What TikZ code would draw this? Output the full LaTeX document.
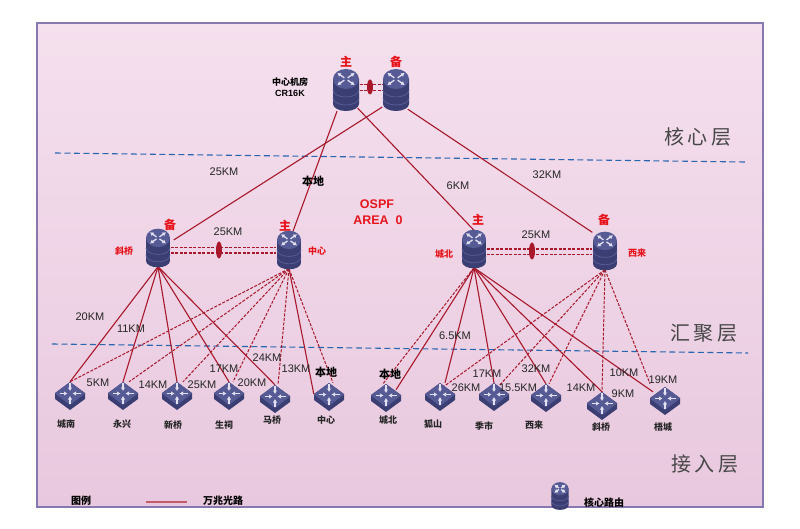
\documentclass[tikz,border=0pt]{standalone}
\usepackage{fontspec}
\setmainfont{Liberation Sans}
\newfontfamily\cjk{Noto Sans CJK SC}
\usetikzlibrary{arrows.meta,shapes.geometric}
\definecolor{linkred}{HTML}{A8182A}
\definecolor{tagred}{HTML}{E8141C}
\definecolor{layerblue}{HTML}{2A66B0}
\definecolor{rtbody}{HTML}{3A3E72}
\definecolor{rttop}{HTML}{565B96}
\definecolor{rtmark}{HTML}{E4E2F0}
\definecolor{panetop}{HTML}{F5E0EE}
\definecolor{panebot}{HTML}{E8C8DE}
\definecolor{paneline}{HTML}{8878B0}
\tikzset{
  corebox/.style={minimum width=27pt,minimum height=42pt,inner sep=0pt},
  distbox/.style={minimum width=25pt,minimum height=37pt,inner sep=0pt},
  legbox/.style={minimum width=19pt,minimum height=27pt,inner sep=0pt},
  accbox/.style={minimum width=30pt,minimum height=28pt,inner sep=0pt},
  kmlabel/.style={font=\fontsize{11}{12}\selectfont,text=black!85,inner sep=0pt},
  toplabel/.style={font=\cjk\bfseries\fontsize{9}{10}\selectfont,inner sep=0pt},
  sitelabel/.style={font=\cjk\bfseries\fontsize{9}{10}\selectfont,text=black!85,inner sep=0pt},
  redlabel/.style={font=\cjk\bfseries\fontsize{9}{10}\selectfont,text=tagred,inner sep=0pt},
  roletag/.style={font=\cjk\bfseries\fontsize{12}{12}\selectfont,text=tagred,inner sep=0pt},
  arealabel/.style={font=\bfseries\fontsize{12.5}{13}\selectfont,text=tagred,inner sep=0pt},
  layerlabel/.style={font=\cjk\fontsize{20}{20}\selectfont,text=black!72,inner sep=0pt},
  locallabel/.style={font=\cjk\bfseries\fontsize{11}{12}\selectfont,inner sep=0pt},
  fibre/.style={draw=linkred,line width=1.1pt},
  fibredash/.style={draw=linkred,line width=1pt,dash pattern=on 3pt off 1.5pt},
  bundle/.style={ellipse,fill=linkred,minimum width=6pt,minimum height=17pt,inner sep=0pt},
  layerline/.style={draw=layerblue,line width=1.1pt,dash pattern=on 6pt off 3.5pt},
  pics/corert/.style={code={
    \fill[rtbody] (-13,-11) -- (13,-11) -- (13,14) arc[start angle=0,end angle=180,x radius=13,y radius=7] -- cycle;
    \foreach \yy in {0,8}
      \draw[rttop,line width=0.8pt] (-13,\yy) arc[start angle=180,end angle=0,x radius=13,y radius=7];
    \fill[rttop] (0,-11) ellipse[x radius=13,y radius=10];
    \foreach \aa in {35,145,215,325}
      \draw[rtmark,line width=1.3pt,-{Latex[length=3.5pt,width=4.5pt]}]
        ([shift={(\aa:2)}]0,-11) -- ([shift={(\aa:10.5)}]0,-11);
  }},
  pics/accrt/.style={code={
    \fill[rtbody] (-15,-3) -- (0,-14) -- (15,-3) -- (15,3) -- (0,14) -- (-15,3) -- cycle;
    \fill[rttop] (-15,-2.5) -- (0,-14) -- (15,-2.5) -- (0,9) -- cycle;
    \foreach \aa in {0,90,180,270}
      \draw[rtmark,line width=1.3pt,-{Latex[length=3.5pt,width=4.5pt]}]
        ([shift={(\aa:10.5)}]0,-2.5) -- ([shift={(\aa:2.5)}]0,-2.5);
  }},
}
\begin{document}
\begin{tikzpicture}[x=1pt,y=-1pt]
  \useasboundingbox (0,0) rectangle (800,529);
  \shade[top color=panetop,bottom color=panebot] (37,23) rectangle (763,507);
  \draw[draw=paneline,line width=1.5pt] (37,23) rectangle (763,507);
  % layer separators
  \coordinate (sep1a) at (55,153);
  \coordinate (sep1b) at (745,162);
  \coordinate (sep2a) at (52,344);
  \coordinate (sep2b) at (748,353);
  \draw[layerline] (sep1a) -- (sep1b);
  \draw[layerline] (sep2a) -- (sep2b);
  % routers
  \draw
    (346,90) node[corebox] (zhu){}
    (396,90) node[corebox] (bei){}
    (158,248) node[distbox] (xqd){}
    (289,250) node[distbox] (zxd){}
    (474,249) node[distbox] (cbd){}
    (605,251) node[distbox] (xld){}
    (560,496) node[legbox] (legrt){};
  \draw
    (70,396) node[accbox] (chengnan){}
    (123,396) node[accbox] (yongxing){}
    (177,396) node[accbox] (xinqiao){}
    (229,396) node[accbox] (shengci){}
    (275,399) node[accbox] (maqiao){}
    (329,397) node[accbox] (zhongxin){}
    (386,398) node[accbox] (chengbei){}
    (440,397) node[accbox] (hushan){}
    (494,397) node[accbox] (jishi){}
    (546,398) node[accbox] (xilai){}
    (602,406) node[accbox] (xieqiao){}
    (665,401) node[accbox] (wucheng){};
  % double links
  \begin{scope}[every path/.style={fibredash}]
    \draw ([yshift=5pt]zhu.east) to ([yshift=5pt]bei.west);
    \draw ([yshift=-1pt]zhu.east) to ([yshift=-1pt]bei.west);
    \draw ([yshift=0pt]xqd.east) to ([yshift=2pt]zxd.west);
    \draw[line width=1.4pt] ([yshift=-5pt]xqd.east) to ([yshift=-3pt]zxd.west);
    \draw[line width=1.4pt] ([yshift=0pt]cbd.east) to ([yshift=2pt]xld.west);
    \draw[line width=0.8pt] ([yshift=-5pt]cbd.east) to ([yshift=-3pt]xld.west);
  \end{scope}
  % link bundles
  \draw
    (370,87) node[bundle,minimum height=15pt] (ring0){}
    (219,250) node[bundle] (ring1){}
    (532,251) node[bundle] (ring2){};
  % uplinks
  \begin{scope}[every path/.style={fibre}]
    \draw ([xshift=-9pt]zhu.south) to ([xshift=4pt]zxd.north);
    \draw ([xshift=-2pt,yshift=3pt]zhu.south east) to (cbd.north);
    \draw ([yshift=-17pt]bei.west) to ([xshift=3pt,yshift=8pt]xqd.east);
    \draw ([xshift=-2pt,yshift=2pt]bei.south east) to (xld.north west);
  \end{scope}
  % solid access links
  \begin{scope}[every path/.style={fibre}]
    \draw (xqd.south) to (chengnan.north);
    \draw (xqd.south) to (yongxing.north);
    \draw (xqd.south) to (xinqiao.north);
    \draw (xqd.south) to (shengci.north);
    \draw (xqd.south) to (maqiao.north);
    \draw (zxd.south) to ([yshift=3pt]zhongxin.west);
    \draw (cbd.south) to ([xshift=10pt,yshift=-6pt]chengbei.north);
    \draw (cbd.south) to ([xshift=5pt]hushan.north);
    \draw (cbd.south) to (jishi.north);
    \draw (cbd.south) to (xilai.north);
    \draw (cbd.south) to (xieqiao.north);
    \draw (cbd.south) to ([xshift=-12pt,yshift=-5pt]wucheng.north);
  \end{scope}
  % dashed access links
  \begin{scope}[every path/.style={fibredash}]
    \draw (zxd.south) to (chengnan.north);
    \draw (zxd.south) to ([xshift=6pt]yongxing.north);
    \draw (zxd.south) to ([xshift=6pt]xinqiao.north);
    \draw (zxd.south) to ([xshift=4pt]shengci.north);
    \draw (zxd.south) to ([xshift=3pt]maqiao.north);
    \draw (zxd.south) to ([xshift=4pt]zhongxin.north);
    \draw (cbd.south) to ([xshift=-3pt]chengbei.north);
    \draw (xld.south) to ([xshift=2pt,yshift=-5pt]hushan.north);
    \draw (xld.south) to ([xshift=5pt,yshift=-3pt]jishi.north);
    \draw (xld.south) to ([xshift=3pt]xilai.north);
    \draw (xld.south) to (xieqiao.north);
    \draw (xld.south) to ([xshift=-15pt,yshift=3pt]wucheng.north);
  \end{scope}
  % router glyphs go on top of the links
  \foreach \rt in {zhu,bei}
    \pic at (\rt) {corert};
  \foreach \rt in {xqd,zxd,cbd,xld}
    \pic[scale=0.92] at (\rt) {corert};
  \pic[scale=0.66] at (legrt) {corert};
  \foreach \rt in {chengnan,yongxing,xinqiao,shengci,maqiao,zhongxin,chengbei,hushan,jishi,xilai,xieqiao,wucheng}
    \pic at (\rt) {accrt};
  % role tags
  \draw
    (346,62) node[roletag] (tag0){主}
    (396,62) node[roletag] (tag1){备}
    (170,225) node[roletag] (tag2){备}
    (285,226) node[roletag] (tag3){主}
    (478,220) node[roletag] (tag4){主}
    (604,220) node[roletag] (tag5){备};
  \draw
    (124,251) node[redlabel] (red0){斜桥}
    (317,251) node[redlabel] (red1){中心}
    (444,254) node[redlabel] (red2){城北}
    (637,253) node[redlabel] (red3){西来};
  % centre labels
  \draw
    (290,82) node[toplabel] (room){中心机房}
    (290,93) node[font=\bfseries\fontsize{9}{10}\selectfont,inner sep=0pt] (model){CR16K}
    (377,204) node[arealabel] (ospf){OSPF}
    (378,220) node[arealabel] (area){AREA\ \ 0};
  % distances
  \draw
    (224,172) node[kmlabel] (km0){25KM}
    (228,232) node[kmlabel] (km1){25KM}
    (458,186) node[kmlabel] (km2){6KM}
    (547,175) node[kmlabel] (km3){32KM}
    (536,235) node[kmlabel] (km4){25KM}
    (90,317) node[kmlabel] (km5){20KM}
    (131,329) node[kmlabel] (km6){11KM}
    (98,383) node[kmlabel] (km7){5KM}
    (153,385) node[kmlabel] (km8){14KM}
    (202,385) node[kmlabel] (km9){25KM}
    (224,369) node[kmlabel] (km10){17KM}
    (252,383) node[kmlabel] (km11){20KM}
    (267,358) node[kmlabel] (km12){24KM}
    (296,369) node[kmlabel] (km13){13KM}
    (455,336) node[kmlabel] (km14){6.5KM}
    (487,374) node[kmlabel] (km15){17KM}
    (466,388) node[kmlabel] (km16){26KM}
    (518,388) node[kmlabel] (km17){15.5KM}
    (536,369) node[kmlabel] (km18){32KM}
    (581,388) node[kmlabel] (km19){14KM}
    (624,373) node[kmlabel] (km20){10KM}
    (663,380) node[kmlabel] (km21){19KM}
    (623,394) node[kmlabel] (km22){9KM};
  \draw
    (313,181) node[locallabel] (local0){本地}
    (326,372) node[locallabel] (local1){本地}
    (390,374) node[locallabel] (local2){本地};
  % site names
  \draw
    (66,424) node[sitelabel] (s0){城南}
    (122,424) node[sitelabel] (s1){永兴}
    (173,425) node[sitelabel] (s2){新桥}
    (224,425) node[sitelabel] (s3){生祠}
    (272,420) node[sitelabel] (s4){马桥}
    (326,420) node[sitelabel] (s5){中心}
    (388,420) node[sitelabel] (s6){城北}
    (433,424) node[sitelabel] (s7){狐山}
    (484,426) node[sitelabel] (s8){季市}
    (534,425) node[sitelabel] (s9){西来}
    (601,427) node[sitelabel] (s10){斜桥}
    (663,427) node[sitelabel] (s11){梧城};
  % layers
  \draw
    (698,137) node[layerlabel] (layer0){核\,心\,层}
    (704,333) node[layerlabel] (layer1){汇\,聚\,层}
    (705,464) node[layerlabel] (layer2){接\,入\,层};
  % legend
  \coordinate (lega) at (146,502);
  \coordinate (legb) at (187,502);
  \draw[draw=linkred!70!white,line width=1.2pt] (lega) -- (legb);
  \draw
    (81,501) node[toplabel,font=\cjk\bfseries\fontsize{10}{10}\selectfont] (leg0){图例}
    (223,501) node[toplabel,font=\cjk\bfseries\fontsize{10}{10}\selectfont] (leg1){万兆光路}
    (604,503) node[toplabel,font=\cjk\bfseries\fontsize{10}{10}\selectfont] (leg2){核心路由};
\end{tikzpicture}
\end{document}
